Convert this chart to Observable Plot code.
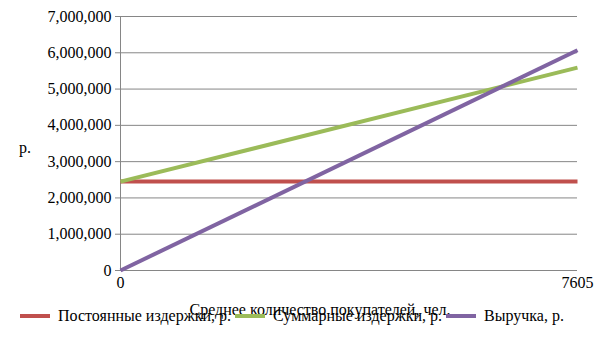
<!DOCTYPE html>
<html><head><meta charset="utf-8">
<script src="https://cdn.jsdelivr.net/npm/d3@7"></script>
<script src="https://cdn.jsdelivr.net/npm/@observablehq/plot@0.6"></script>
<style>
body{margin:0;background:#fff;font-family:"Liberation Serif",serif;}
#wrap{position:relative;width:605px;height:340px;}
#ylab{position:absolute;left:19px;top:139px;font-size:16px;}
#xlab{position:absolute;left:0;width:640px;text-align:center;top:301px;font-size:16px;}
#legend{position:absolute;left:20px;top:307px;display:flex;align-items:center;font-size:16px;white-space:nowrap;}
.item{display:flex;align-items:center;margin-right:4px;}
.sw{width:30px;height:4px;margin-right:8px;}
</style></head><body>
<div id="wrap"></div>
<script>
const customers = [0, 7605];
const fixedCosts = [2450000, 2450000];
const totalCosts = [2450000, 5590000];
const revenue = [0, 6070000];
const seriesNames = ["Постоянные издержки, р.", "Суммарные издержки, р.", "Выручка, р."];
const seriesColors = ["#C0504D", "#9BBB59", "#8064A2"];
const yTicks = [0,1000000,2000000,3000000,4000000,5000000,6000000,7000000];
const xTicks = [0, 7605];
const xTitle = "Среднее количество покупателей, чел.";
const yTitle = "р.";

const seriesVals = [fixedCosts, totalCosts, revenue];
const data = [];
seriesVals.forEach((vals, i) => vals.forEach((v, j) => data.push({x: customers[j], y: v, s: seriesNames[i]})));

const chart = Plot.plot({
  width: 605, height: 320,
  marginLeft: 120, marginRight: 28, marginTop: 16, marginBottom: 50,
  style: {fontSize: "16px", color: "#000", background: "#fff"},
  x: {domain: [0, 7605], ticks: xTicks, tickSize: 0, tickPadding: 6, label: null, tickFormat: d => String(d)},
  y: {domain: [0, 7000000], ticks: yTicks, tickSize: 5, tickPadding: 4, label: null, tickFormat: d3.format(",")},
  color: {domain: seriesNames, range: seriesColors},
  marks: [
    Plot.ruleY(yTicks, {stroke: "#868686", strokeWidth: 1}),
    Plot.ruleX([0], {stroke: "#868686", strokeWidth: 1}),
    Plot.axisY({ticks: yTicks, tickSize: 5, tickPadding: 4, stroke: "#868686", tickFormat: d3.format(","), label: null}),
    Plot.axisX({ticks: xTicks, tickSize: 0, tickPadding: 6, label: null, tickFormat: d => String(d)}),
    Plot.line(data, {x: "x", y: "y", z: "s", stroke: "s", strokeWidth: 4, strokeLinecap: "butt"})
  ]
});
chart.setAttribute("font-family", "Liberation Serif");
chart.style.fontFamily = "'Liberation Serif', serif";
d3.select(chart).selectAll("g, text").attr("font-family", "Liberation Serif").attr("font-variant", null)
  .style("font-family", "'Liberation Serif', serif").style("font-variant", "normal");
const wrap = document.getElementById("wrap");
wrap.appendChild(chart);
const yl = document.createElement("div"); yl.id = "ylab"; yl.textContent = yTitle; wrap.appendChild(yl);
const xl = document.createElement("div"); xl.id = "xlab"; xl.textContent = xTitle; wrap.appendChild(xl);
const lg = document.createElement("div"); lg.id = "legend";
seriesNames.forEach((n, i) => {
  const it = document.createElement("div"); it.className = "item";
  const sw = document.createElement("div"); sw.className = "sw"; sw.style.background = seriesColors[i];
  const t = document.createElement("span"); t.textContent = n;
  it.appendChild(sw); it.appendChild(t); lg.appendChild(it);
});
wrap.appendChild(lg);
</script>
</body></html>
